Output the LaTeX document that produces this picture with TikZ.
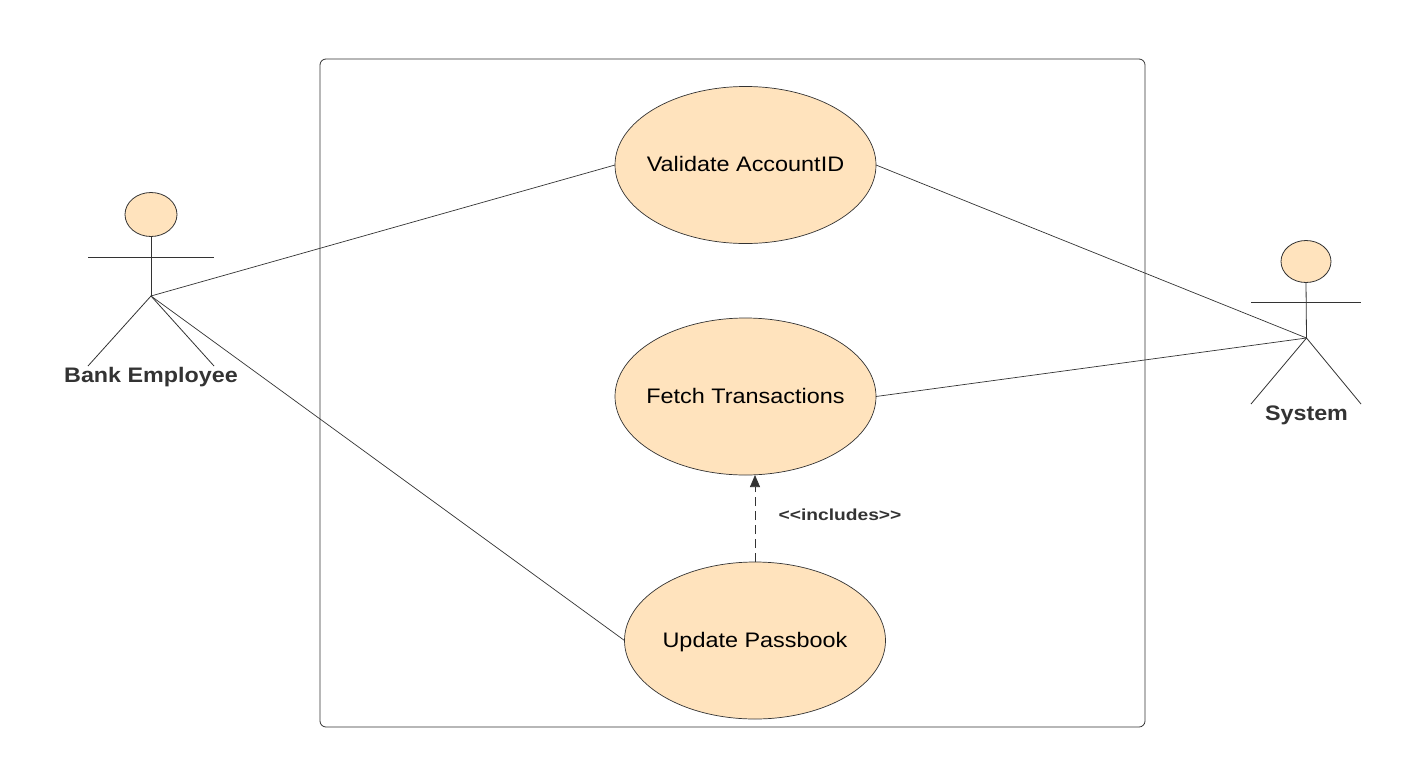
\documentclass[tikz,border=0pt]{standalone}
\usepackage{fontspec}
\setmainfont{Liberation Sans}
\usetikzlibrary{shapes.geometric,arrows.meta}
\definecolor{peach}{HTML}{FFE3BD}
\definecolor{ink}{HTML}{333333}
\tikzset{
  x=1pt,y=-1pt,
  usecase/.style={ellipse,draw=ink,fill=peach,line width=0.7pt,minimum width=261pt,minimum height=157pt,inner ysep=0pt,inner xsep=-20pt,outer sep=0pt,font=\fontsize{21}{24}\selectfont,text=black,text height=16pt,text depth=3pt},
  head/.style={ellipse,draw=ink,fill=peach,line width=0.8pt,inner sep=0pt,outer sep=0pt},
  limb/.style={draw=ink,line width=0.8pt},
  assoc/.style={draw=ink,line width=0.7pt},
  actorname/.style={font=\bfseries\fontsize{21}{24}\selectfont,text=ink,inner sep=0pt,text height=15pt,text depth=4pt},
  frame/.style={draw=ink,line width=0.8pt,rounded corners=6pt},
}
\begin{document}
\begin{tikzpicture}
\useasboundingbox (0,0) rectangle (1427,782);
\fill[white] (0,0) rectangle (1427,782);
\node[frame,minimum width=825pt,minimum height=668pt,inner sep=0pt,outer sep=0pt] (boundary) at (732.5,393) {};
\node[usecase] (validate) at (745.5,165) {\addfontfeatures{FakeStretch=1.115}Validate AccountID};
\node[usecase] (fetch) at (745.5,396.5) {\addfontfeatures{FakeStretch=1.115}Fetch Transactions};
\node[usecase] (update) at (755,640.5) {\addfontfeatures{FakeStretch=1.115}Update Passbook};
% Bank Employee
\node[head,minimum width=52pt,minimum height=44pt] (h1) at (151,214.5) {};
\coordinate (hip1) at (151,296);
\coordinate (arm1l) at (88,257.5);
\coordinate (arm1r) at (214,257.5);
\coordinate (leg1l) at (88,366);
\coordinate (leg1r) at (214,366);
\draw[limb] (h1.south) -- (hip1);
\draw[limb] (arm1l) -- (arm1r);
\draw[limb] (leg1l) -- (hip1) -- (leg1r);
\node[actorname] (n1) at (151,377) {\addfontfeatures{FakeStretch=1.11}Bank Employee};
% System
\node[head,minimum width=50pt,minimum height=42pt] (h2) at (1306,261.5) {};
\coordinate (hip2) at (1306.5,338);
\coordinate (arm2l) at (1251,302);
\coordinate (arm2r) at (1361,302);
\coordinate (leg2l) at (1251,404);
\coordinate (leg2r) at (1361,404);
\draw[limb] (h2.south) -- (hip2);
\draw[limb] (arm2l) -- (arm2r);
\draw[limb] (leg2l) -- (hip2) -- (leg2r);
\node[actorname] (n2) at (1306.5,415) {\addfontfeatures{FakeStretch=1.11}System};
% associations
\draw[assoc] (hip1) -- (validate.west);
\draw[assoc] (hip1) -- (update.west);
\draw[assoc] (validate.east) -- (hip2);
\draw[assoc] (fetch.east) -- (hip2);
\draw[assoc,dash pattern=on 9pt off 5pt,-{Triangle[length=12pt,width=10pt,fill=ink]}] (update.north) -- (update.north |- fetch.south);
\node[font=\bfseries\fontsize{16}{18}\selectfont,text=ink,inner sep=0pt] (inc) at (840,515) {\addfontfeatures{FakeStretch=1.2}<{}<includes>{}>};
\end{tikzpicture}
\end{document}
